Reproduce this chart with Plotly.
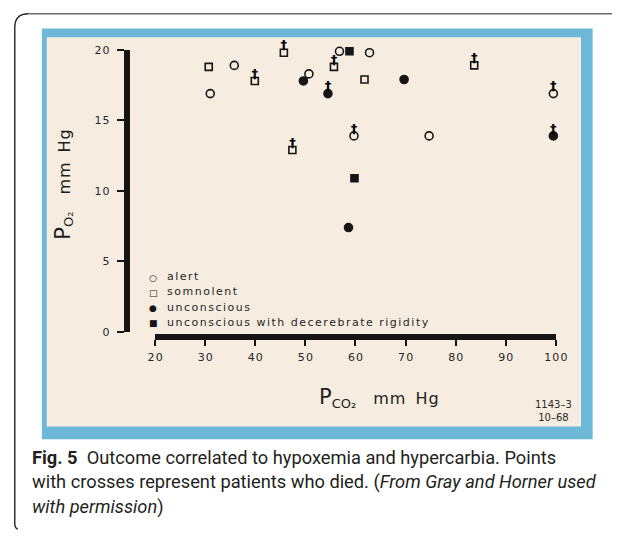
import plotly.graph_objects as go

W, H = 624, 536

# ---------------- data ----------------
pco2 = [31.0, 30.7, 35.8, 39.9, 45.7, 47.4, 49.6, 50.7, 54.5, 55.7, 56.8,
        58.8, 62.8, 61.8, 59.7, 59.8, 58.6, 69.7, 74.7, 83.7, 99.5, 99.5]
po2 = [16.9, 18.8, 18.9, 17.8, 19.8, 12.9, 17.8, 18.3, 16.9, 18.8, 19.9,
       19.9, 19.8, 17.9, 13.9, 10.9, 7.4, 17.9, 13.9, 18.9, 16.9, 13.9]
state = ["alert", "somnolent", "alert", "somnolent", "somnolent", "somnolent",
         "unconscious", "alert", "unconscious", "somnolent", "alert",
         "decerebrate", "alert", "somnolent", "alert", "decerebrate",
         "unconscious", "unconscious", "alert", "somnolent", "alert",
         "unconscious"]
died = [False, False, False, True, True, True, False, False, True, True, False,
        False, False, False, True, False, False, False, False, True, True, True]

categories = ["alert", "somnolent", "unconscious", "decerebrate"]
category_labels = ["alert", "somnolent", "unconscious",
                   "unconscious with decerebrate rigidity"]
x_ticks = [20, 30, 40, 50, 60, 70, 80, 90, 100]
y_ticks = [0, 5, 10, 15, 20]

# ---------------- styles ----------------
INK = "#161616"
symbols = {"alert": "circle-open", "somnolent": "square-open",
           "unconscious": "circle", "decerebrate": "square"}
sizes = {"alert": 8, "somnolent": 7, "unconscious": 8, "decerebrate": 7}
legend_glyph = {"alert": "○", "somnolent": "□", "unconscious": "●", "decerebrate": "■"}
BLUE = "#6db7d7"
BEIGE = "#f6ece0"


def px(x):
    return x / W


def py(y):
    return 1 - y / H


def spaced(s):
    return "\u200a".join(str(s))


fig = go.Figure()

for cat, lab in zip(categories, category_labels):
    xs = [x for x, s in zip(pco2, state) if s == cat]
    ys = [y for y, s in zip(po2, state) if s == cat]
    fig.add_trace(go.Scatter(
        x=xs, y=ys, mode="markers", name=lab, showlegend=False,
        cliponaxis=False,
        marker=dict(symbol=symbols[cat], size=sizes[cat], color=INK,
                    line=dict(color=INK, width=1.6)),
    ))

# crosses marking patients who died
fig.add_trace(go.Scatter(
    x=[x for x, d in zip(pco2, died) if d],
    y=[y for y, d in zip(po2, died) if d],
    mode="text", text=["†"] * sum(died), textposition="top center",
    textfont=dict(family="DejaVu Sans", size=13, color="#000000", weight="bold"),
    showlegend=False, cliponaxis=False, name="died",
))

shapes = [
    # blue mount and beige paper
    dict(type="rect", xref="paper", yref="paper", x0=px(35), x1=px(604),
         y0=py(444), y1=py(23), fillcolor=BLUE, line=dict(width=0), layer="below"),
    dict(type="rect", xref="paper", yref="paper", x0=px(40), x1=px(592),
         y0=py(431), y1=py(32), fillcolor=BEIGE, line=dict(width=0), layer="below"),
    # outer frame
    dict(type="line", xref="paper", yref="paper", x0=px(21), x1=px(624),
         y0=py(8), y1=py(8), line=dict(color="#6a6a6a", width=1.4)),
    dict(type="path", xref="paper", yref="paper",
         path=(f"M {px(21)},{py(8)} Q {px(7)},{py(8)} {px(7)},{py(22)} "
               f"L {px(7)},{py(530)} Q {px(7)},{py(535)} {px(10)},{py(536)}"),
         line=dict(color="#222222", width=1.4)),
]

ann = []
# legend
leg_y = [278.5, 294, 309.5, 325]
for cat, lab, yy in zip(categories, category_labels, leg_y):
    ann.append(dict(x=px(150), y=py(yy), xref="paper", yref="paper",
                    text=legend_glyph[cat], showarrow=False, xanchor="center",
                    yanchor="middle",
                    font=dict(family="DejaVu Sans", size=9, color=INK)))
    ann.append(dict(x=px(162), y=py(yy - 1), xref="paper", yref="paper",
                    text=f"<span style='letter-spacing:1.5px'>{lab}</span>",
                    showarrow=False, xanchor="left", yanchor="middle",
                    font=dict(family="DejaVu Sans", size=11, color="#262626")))

# axis titles
title_x = ("<span style='font-size:21px'>P</span><sub><span style='font-size:13px'>CO₂</span></sub>\u2003"
           "<span style='font-size:16px;letter-spacing:1px'>mm\u2002Hg</span>")
title_y = ("<span style='font-size:21px'>P</span><sub><span style='font-size:13px'>O₂</span></sub>\u2003"
           "<span style='font-size:16px;letter-spacing:1px'>mm\u2002Hg</span>")
ann.append(dict(x=px(384), y=py(402), xref="paper", yref="paper",
                text=title_x, showarrow=False, xanchor="center", yanchor="middle",
                font=dict(family="DejaVu Sans", size=17, color="#1e1e1e")))
ann.append(dict(x=px(57), y=py(183), xref="paper", yref="paper", textangle=-90,
                text=title_y, showarrow=False, xanchor="center", yanchor="middle",
                font=dict(family="DejaVu Sans", size=17, color="#1e1e1e")))
# figure id
ann.append(dict(x=px(585), y=py(415), xref="paper", yref="paper",
                text="1143–3<br>10–68", showarrow=False, xanchor="right",
                yanchor="middle", align="center",
                font=dict(family="DejaVu Sans", size=10, color="#2a2a2a")))

# caption
cap_lines = [
    "<b>Fig. 5</b>  Outcome correlated to hypoxemia and hypercarbia. Points",
    "with crosses represent patients who died. (<i>From Gray and Horner used</i>",
    "<i>with permission</i>)",
]
for i, line in enumerate(cap_lines):
    ann.append(dict(x=px(23), y=py(463 + 25 * i), xref="paper", yref="paper",
                    text=line, showarrow=False, xanchor="left", yanchor="middle",
                    font=dict(family="Roboto", size=18.25, color="#231f20")))

axis_common = dict(showline=True, linecolor=INK, ticks="outside", tickcolor=INK,
                   tickwidth=1.6, showgrid=False, zeroline=False, fixedrange=True,
                   tickfont=dict(family="DejaVu Sans", size=11, color="#262626"))

fig.update_layout(
    width=W, height=H, autosize=False,
    margin=dict(l=0, r=0, t=0, b=0),
    paper_bgcolor="white", plot_bgcolor="rgba(0,0,0,0)",
    xaxis=dict(domain=[px(152), px(566)], range=[20, 100], anchor="free",
               position=py(339), linewidth=5.5, ticklen=6, ticklabelstandoff=2,
               tickvals=x_ticks, ticktext=[spaced(v) for v in x_ticks],
               **axis_common),
    yaxis=dict(domain=[py(334), py(45)], range=[0, 20], anchor="free",
               position=px(122.5), linewidth=5.5, ticklen=7, ticklabelstandoff=5,
               tickvals=y_ticks, ticktext=[spaced(v) for v in y_ticks],
               **axis_common),
    shapes=shapes, annotations=ann, showlegend=False,
)

fig.write_html("out.html", config={"displayModeBar": False},
               post_script="document.body.style.margin='0';")
